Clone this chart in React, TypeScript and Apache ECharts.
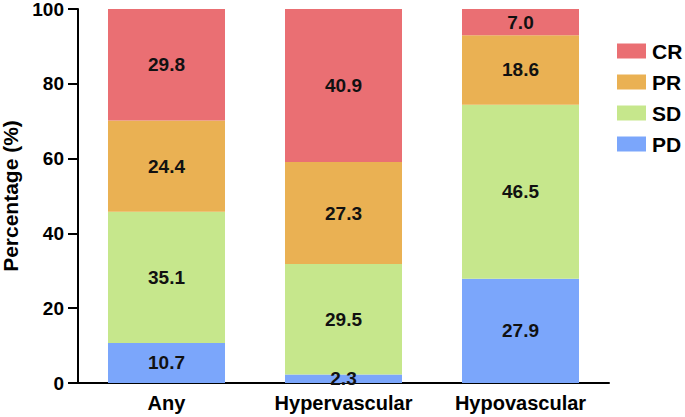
import React, { useEffect, useRef } from "react";
import * as echarts from "echarts";

const categories = ["Any", "Hypervascular", "Hypovascular"];
const seriesNames = ["PD", "SD", "PR", "CR"];
const pdValues = [10.7, 2.3, 27.9];
const sdValues = [35.1, 29.5, 46.5];
const prValues = [24.4, 27.3, 18.6];
const crValues = [29.8, 40.9, 7.0];
const yTicks = [0, 20, 40, 60, 80, 100];
const legendOrder = ["CR", "PR", "SD", "PD"];

const colors: Record<string, string> = {
  PD: "#7BA6FB",
  SD: "#C6E78C",
  PR: "#EAB153",
  CR: "#EA6F73",
};

const FONT = "'Liberation Sans', Arial, Helvetica, sans-serif";

export default function App() {
  const ref = useRef<HTMLDivElement>(null);
  useEffect(() => {
    if (!ref.current) return;
    const chart = echarts.init(ref.current, undefined, { renderer: "svg" });
    const values = [pdValues, sdValues, prValues, crValues];
    chart.setOption({
      animation: false,
      textStyle: { fontFamily: FONT },
      grid: { left: 78, right: 76, top: 9, bottom: 34, containLabel: false, outerBoundsMode: "none" },
      legend: {
        data: legendOrder,
        orient: "vertical",
        left: 612,
        top: 35,
        itemWidth: 29,
        itemHeight: 15,
        itemGap: 9,
        icon: "rect",
        textStyle: { fontFamily: FONT, fontWeight: "bold", fontSize: 21, lineHeight: 22, color: "#000", padding: [0, 0, 0, 1] },
      },
      xAxis: {
        type: "category",
        data: categories,
        axisLine: { lineStyle: { color: "#000", width: 2 } },
        axisTick: { alignWithLabel: true, length: 8, lineStyle: { color: "#000", width: 2 } },
        axisLabel: { interval: 0, fontFamily: FONT, fontWeight: "bold", fontSize: 20, color: "#000", margin: 10 },
      },
      yAxis: {
        type: "value",
        min: yTicks[0],
        max: yTicks[yTicks.length - 1],
        interval: 20,
        name: "Percentage (%)",
        nameLocation: "middle",
        nameGap: 55,
        nameTextStyle: { fontFamily: FONT, fontWeight: "bold", fontSize: 21, color: "#000" },
        axisLine: { show: true, lineStyle: { color: "#000", width: 2 } },
        axisTick: { show: true, length: 10, lineStyle: { color: "#000", width: 2 } },
        axisLabel: { fontFamily: FONT, fontWeight: "bold", fontSize: 19, color: "#000", margin: 14 },
        splitLine: { show: false },
      },
      series: seriesNames.map((name, i) => ({
        name,
        type: "bar",
        stack: "total",
        barWidth: 117,
        data: values[i],
        itemStyle: { color: colors[name] },
        label: {
          show: true,
          position: "inside",
          formatter: (p: any) => Number(p.value).toFixed(1),
          fontFamily: FONT,
          fontWeight: "bold",
          fontSize: 19,
          color: "#111",
        },
      })),
    });
    return () => chart.dispose();
  }, []);
  return (
    <div
      ref={ref}
      style={{ position: "fixed", left: 0, top: 0, width: 685, height: 417, background: "#fff" }}
    />
  );
}
